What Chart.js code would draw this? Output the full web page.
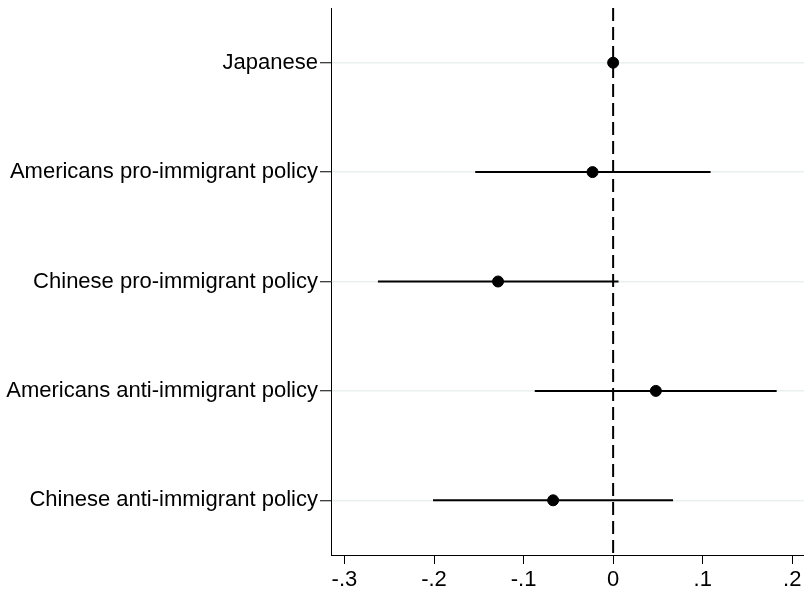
<!DOCTYPE html>
<html>
<head>
<meta charset="utf-8">
<script src="https://cdn.jsdelivr.net/npm/chart.js@4"></script>
<style>
  html, body { margin: 0; padding: 0; background: #fff; }
  #wrap { width: 804px; height: 590px; position: relative; }
</style>
</head>
<body>
<div id="wrap"><canvas id="coefChart"></canvas></div>
<script>
const categories = [
  "Japanese",
  "Americans pro-immigrant policy",
  "Chinese pro-immigrant policy",
  "Americans anti-immigrant policy",
  "Chinese anti-immigrant policy"
];
const estimates = [0, -0.023, -0.1285, 0.0477, -0.067];
const ciLow = [0, -0.154, -0.2626, -0.0875, -0.2011];
const ciHigh = [0, 0.1088, 0.006, 0.1826, 0.0669];
const xTicks = [-0.3, -0.2, -0.1, 0, 0.1, 0.2];

const FONT = { family: "'Liberation Sans', Arial, Helvetica, sans-serif", size: 22 };

// horizontal confidence intervals, drawn under the points
const ciBars = {
  id: "ciBars",
  beforeDatasetsDraw(chart) {
    const { ctx, scales: { x, y } } = chart;
    ctx.save();
    ctx.strokeStyle = "#000";
    ctx.lineWidth = 2;
    categories.forEach((c, i) => {
      if (ciLow[i] === ciHigh[i]) return;
      const py = y.getPixelForValue(i + 1);
      ctx.beginPath();
      ctx.moveTo(x.getPixelForValue(ciLow[i]), py);
      ctx.lineTo(x.getPixelForValue(ciHigh[i]), py);
      ctx.stroke();
    });
    ctx.restore();
  }
};

const ctx = document.getElementById("coefChart").getContext("2d");
new Chart(ctx, {
  type: "scatter",
  data: {
    datasets: [
      {
        type: "line",
        data: [{ x: 0, y: 0.5 }, { x: 0, y: 5.5 }],
        borderColor: "#000",
        borderWidth: 2,
        borderDash: [13, 6],
        pointRadius: 0,
        order: 2
      },
      {
        data: estimates.map((v, i) => ({ x: v, y: i + 1 })),
        backgroundColor: "#000",
        borderColor: "#000",
        pointRadius: 5.5,
        order: 1
      }
    ]
  },
  options: {
    responsive: true,
    maintainAspectRatio: false,
    animation: false,
    layout: { autoPadding: false, padding: { top: 8, right: 0, left: 0, bottom: 0 } },
    plugins: { legend: { display: false }, tooltip: { enabled: false } },
    scales: {
      x: {
        type: "linear",
        min: -0.315,
        max: 0.2131,
        afterBuildTicks: (s) => { s.ticks = xTicks.map(v => ({ value: v })); },
        afterFit: (s) => { s.height = 35; s.paddingLeft = 0; s.paddingRight = 0; },
        ticks: {
          color: "#000",
          font: FONT,
          padding: 3,
          maxRotation: 0,
          callback: (v) => v === 0 ? "0" : (v < 0 ? "-" : "") + String(Math.abs(v).toFixed(1)).replace(/^0/, "")
        },
        grid: { drawOnChartArea: false, tickLength: 9, tickColor: "#000", lineWidth: 1 },
        border: { color: "#000", width: 1 }
      },
      y: {
        type: "linear",
        reverse: true,
        min: 0.5,
        max: 5.5,
        afterBuildTicks: (s) => { s.ticks = categories.map((c, i) => ({ value: i + 1 })); },
        afterFit: (s) => { s.width = 331; s.paddingTop = 0; s.paddingBottom = 0; },
        ticks: {
          color: "#000",
          font: FONT,
          padding: 2,
          callback: (v) => categories[v - 1]
        },
        grid: { color: "#eaf0f0", lineWidth: 1.5, tickLength: 11, tickColor: "#000", tickWidth: 1 },
        border: { color: "#000", width: 1 }
      }
    }
  },
  plugins: [ciBars]
});
</script>
</body>
</html>
